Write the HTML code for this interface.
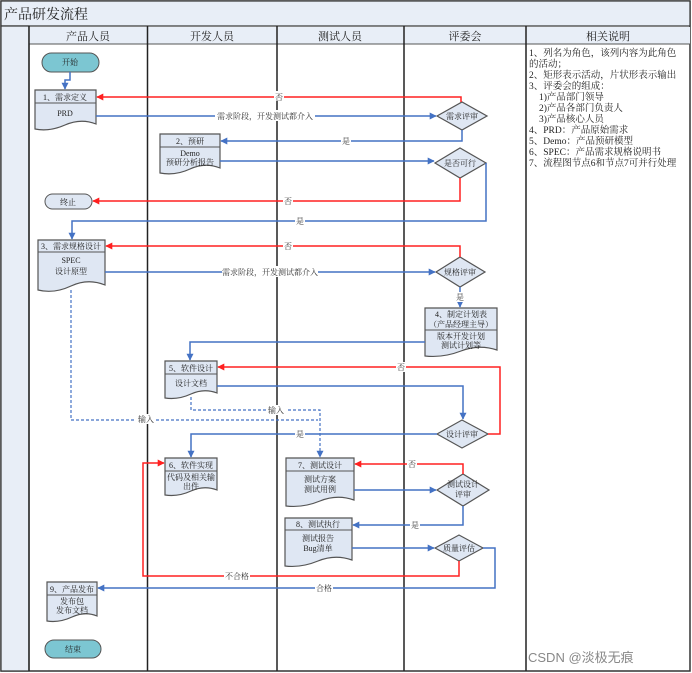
<!DOCTYPE html>
<html><head><meta charset="utf-8"><style>
body{margin:0;background:#fff}
svg{display:block;font-family:"Liberation Serif","Noto Serif CJK SC","Noto Sans CJK SC",serif}
.b{fill:none;stroke:#4472c4;stroke-width:1.5}
.r{fill:none;stroke:#ff2020;stroke-width:1.5}
.d{fill:none;stroke:#4472c4;stroke-width:1.2;stroke-dasharray:3,2}
.box{fill:#dfe7f3;stroke:#555;stroke-width:1.2}
.t{font-size:8px;fill:#222;text-anchor:middle}
.lb{font-size:8px;fill:#333;text-anchor:middle}
.h{font-size:11px;fill:#222;text-anchor:middle}
.n{font-size:9.5px;fill:#222}
</style></head><body>
<svg width="692" height="673" viewBox="0 0 692 673">
<defs>
<marker id="ab" viewBox="0 0 10 10" refX="9" refY="5" markerWidth="7" markerHeight="7" orient="auto" markerUnits="userSpaceOnUse"><path d="M0,0L10,5L0,10z" fill="#4472c4"/></marker>
<marker id="ar" viewBox="0 0 10 10" refX="9" refY="5" markerWidth="7" markerHeight="7" orient="auto" markerUnits="userSpaceOnUse"><path d="M0,0L10,5L0,10z" fill="#ff2020"/></marker>
</defs>
<!-- frame -->
<rect x="1" y="1" width="689" height="670" fill="#fff" stroke="#333" stroke-width="1.5"/>
<rect x="1" y="1" width="689" height="25" fill="#e8eef7" stroke="#333" stroke-width="1.2"/>
<text x="4" y="19" style="font-size:14px;fill:#222">产品研发流程</text>
<rect x="1" y="26" width="28" height="645" fill="#e8eef7" stroke="#333" stroke-width="1.2"/>
<rect x="29" y="27" width="661" height="17" fill="#e8eef7"/>
<line x1="29" y1="44" x2="690" y2="44" stroke="#555" stroke-width="1"/>
<g stroke="#222" stroke-width="1.5">
<line x1="29" y1="26" x2="29" y2="671"/><line x1="147.5" y1="26" x2="147.5" y2="671"/>
<line x1="277" y1="26" x2="277" y2="671"/><line x1="404" y1="26" x2="404" y2="671"/>
<line x1="526" y1="26" x2="526" y2="671"/></g>
<text class="h" x="88" y="40">产品人员</text><text class="h" x="212" y="40">开发人员</text>
<text class="h" x="340" y="40">测试人员</text><text class="h" x="465" y="40">评委会</text>
<text class="h" x="608" y="40">相关说明</text>
<g class="n">
<text x="529" y="56">1、列名为角色，该列内容为此角色</text>
<text x="529" y="67">的活动；</text>
<text x="529" y="78">2、矩形表示活动，片状形表示输出</text>
<text x="529" y="89">3、评委会的组成：</text>
<text x="539" y="100">1)产品部门领导</text>
<text x="539" y="111">2)产品各部门负责人</text>
<text x="539" y="122">3)产品核心人员</text>
<text x="529" y="133">4、PRD：产品原始需求</text>
<text x="529" y="144">5、Demo：产品预研模型</text>
<text x="529" y="155">6、SPEC：产品需求规格说明书</text>
<text x="529" y="166">7、流程图节点6和节点7可并行处理</text>
</g>
<text x="528" y="662" style="font-size:13px;fill:#888;font-family:'Liberation Sans','Noto Sans CJK SC',sans-serif">CSDN @淡极无痕</text>

<!-- terminals -->
<rect x="42" y="53" width="57" height="19" rx="9.5" fill="#7cc6d2" stroke="#555"/><text class="t" x="70" y="65">开始</text>
<rect x="45" y="194" width="47" height="15" rx="7.5" fill="#dfe7f3" stroke="#555"/><text class="t" x="68" y="205">终止</text>
<rect x="45" y="640" width="56" height="18" rx="9" fill="#7cc6d2" stroke="#555"/><text class="t" x="73" y="652">结束</text>

<!-- doc boxes -->
<g class="box">
<path d="M35,90H96V124Q81,118 65,125T35,129Z"/>
<path d="M160,134H220V168Q205,162 190,169T160,173Z"/>
<path d="M38,240H105V285Q88,278 71,286T38,290Z"/>
<path d="M425,308H497V350Q479,344 461,351T425,356Z"/>
<path d="M165,361H217V393Q204,388 191,394T165,398Z"/>
<path d="M165,458H217V490Q204,485 191,491T165,495Z"/>
<path d="M286,458H354V500Q337,494 320,501T286,506Z"/>
<path d="M285,518H352V560Q335,554 318,561T285,566Z"/>
<path d="M47,582H97V616Q85,611 72,617T47,621Z"/>
</g>
<g stroke="#555" stroke-width="1">
<line x1="35" y1="103" x2="96" y2="103"/><line x1="160" y1="147" x2="220" y2="147"/>
<line x1="38" y1="252" x2="105" y2="252"/><line x1="425" y1="330" x2="497" y2="330"/>
<line x1="165" y1="374" x2="217" y2="374"/><line x1="165" y1="471" x2="217" y2="471"/>
<line x1="286" y1="471" x2="354" y2="471"/><line x1="285" y1="530" x2="352" y2="530"/>
<line x1="47" y1="595" x2="97" y2="595"/></g>
<g class="t">
<text x="65" y="100">1、需求定义</text><text x="65" y="116">PRD</text>
<text x="190" y="144">2、预研</text><text x="190" y="156">Demo</text><text x="190" y="165">预研分析报告</text>
<text x="71" y="249">3、需求规格设计</text><text x="71" y="263">SPEC</text><text x="71" y="274">设计原型</text>
<text x="461" y="317">4、制定计划表</text><text x="461" y="327">（产品经理主导）</text><text x="461" y="339">版本开发计划</text><text x="461" y="348">测试计划等</text>
<text x="191" y="371">5、软件设计</text><text x="191" y="386">设计文档</text>
<text x="191" y="468">6、软件实现</text><text x="191" y="480">代码及相关输</text><text x="191" y="489">出件</text>
<text x="320" y="468">7、测试设计</text><text x="320" y="482">测试方案</text><text x="320" y="492">测试用例</text>
<text x="318" y="527">8、测试执行</text><text x="318" y="541">测试报告</text><text x="318" y="551">Bug清单</text>
<text x="72" y="592">9、产品发布</text><text x="72" y="604">发布包</text><text x="72" y="613">发布文档</text>
</g>

<!-- diamonds -->
<g class="box">
<path d="M437,116L462,102L487,116L462,130Z"/>
<path d="M435,163L460,148L486,163L460,178Z"/>
<path d="M436,272L460,257L485,272L460,287Z"/>
<path d="M437,434L462,420L488,434L462,448Z"/>
<path d="M437,490L463,474L489,490L463,506Z"/>
<path d="M435,548L459,535L483,548L459,561Z"/>
</g>
<g class="t">
<text x="462" y="119">需求评审</text><text x="460" y="166">是否可行</text><text x="460" y="275">规格评审</text>
<text x="462" y="437">设计评审</text><text x="463" y="487">测试设计</text><text x="463" y="497">评审</text>
<text x="459" y="551">质量评估</text>
</g>

<!-- connectors -->
<path class="b" d="M70,72V80H65V89" marker-end="url(#ab)"/>
<path class="r" d="M461,102V97H97" marker-end="url(#ar)"/>
<path class="b" d="M96,116H436" marker-end="url(#ab)"/>
<path class="b" d="M462,130V141H221" marker-end="url(#ab)"/>
<path class="b" d="M220,161H434" marker-end="url(#ab)"/>
<path class="r" d="M460,178V201H93" marker-end="url(#ar)"/>
<path class="b" d="M486,163V221H72V239" marker-end="url(#ab)"/>
<path class="r" d="M460,257V246H106" marker-end="url(#ar)"/>
<path class="b" d="M105,272H435" marker-end="url(#ab)"/>
<path class="b" d="M460,287V307" marker-end="url(#ab)"/>
<path class="b" d="M425,342H190V360" marker-end="url(#ab)"/>
<path class="r" d="M488,434H500V367H218" marker-end="url(#ar)"/>
<path class="b" d="M217,386H463V419" marker-end="url(#ab)"/>
<path class="d" d="M191,397V410H320V457" marker-end="url(#ab)"/>
<path class="d" d="M71,290V420H318"/>
<path class="b" d="M437,434H191V457" marker-end="url(#ab)"/>
<path class="r" d="M463,474V464H355" marker-end="url(#ar)"/>
<path class="b" d="M354,490H436" marker-end="url(#ab)"/>
<path class="b" d="M463,506V525H353" marker-end="url(#ab)"/>
<path class="b" d="M352,548H434" marker-end="url(#ab)"/>
<path class="r" d="M459,561V576H143V463H164" marker-end="url(#ar)"/>
<path class="b" d="M483,548H495V588H98" marker-end="url(#ab)"/>

<!-- labels -->
<g class="lb">
<rect x="274" y="91" width="10" height="10" fill="#fff"/><text x="279" y="100">否</text>
<rect x="215" y="110" width="100" height="11" fill="#fff"/><text x="265" y="119">需求阶段，开发测试都介入</text>
<rect x="341" y="136" width="10" height="10" fill="#fff"/><text x="346" y="144">是</text>
<rect x="283" y="196" width="10" height="10" fill="#fff"/><text x="288" y="204">否</text>
<rect x="295" y="216" width="10" height="10" fill="#fff"/><text x="300" y="224">是</text>
<rect x="283" y="241" width="10" height="10" fill="#fff"/><text x="288" y="249">否</text>
<rect x="222" y="266" width="96" height="11" fill="#fff"/><text x="270" y="275">需求阶段，开发测试都介入</text>
<rect x="455" y="292" width="10" height="10" fill="#fff"/><text x="460" y="300">是</text>
<rect x="396" y="362" width="10" height="10" fill="#fff"/><text x="401" y="370">否</text>
<rect x="266" y="405" width="20" height="10" fill="#fff"/><text x="276" y="413">输入</text>
<rect x="136" y="414" width="20" height="10" fill="#fff"/><text x="146" y="422">输入</text>
<rect x="295" y="429" width="10" height="10" fill="#fff"/><text x="300" y="437">是</text>
<rect x="407" y="459" width="10" height="10" fill="#fff"/><text x="412" y="467">否</text>
<rect x="410" y="520" width="10" height="10" fill="#fff"/><text x="415" y="528">是</text>
<rect x="224" y="571" width="26" height="10" fill="#fff"/><text x="237" y="579">不合格</text>
<rect x="315" y="583" width="18" height="10" fill="#fff"/><text x="324" y="591">合格</text>
</g>
</svg>
</body></html>
